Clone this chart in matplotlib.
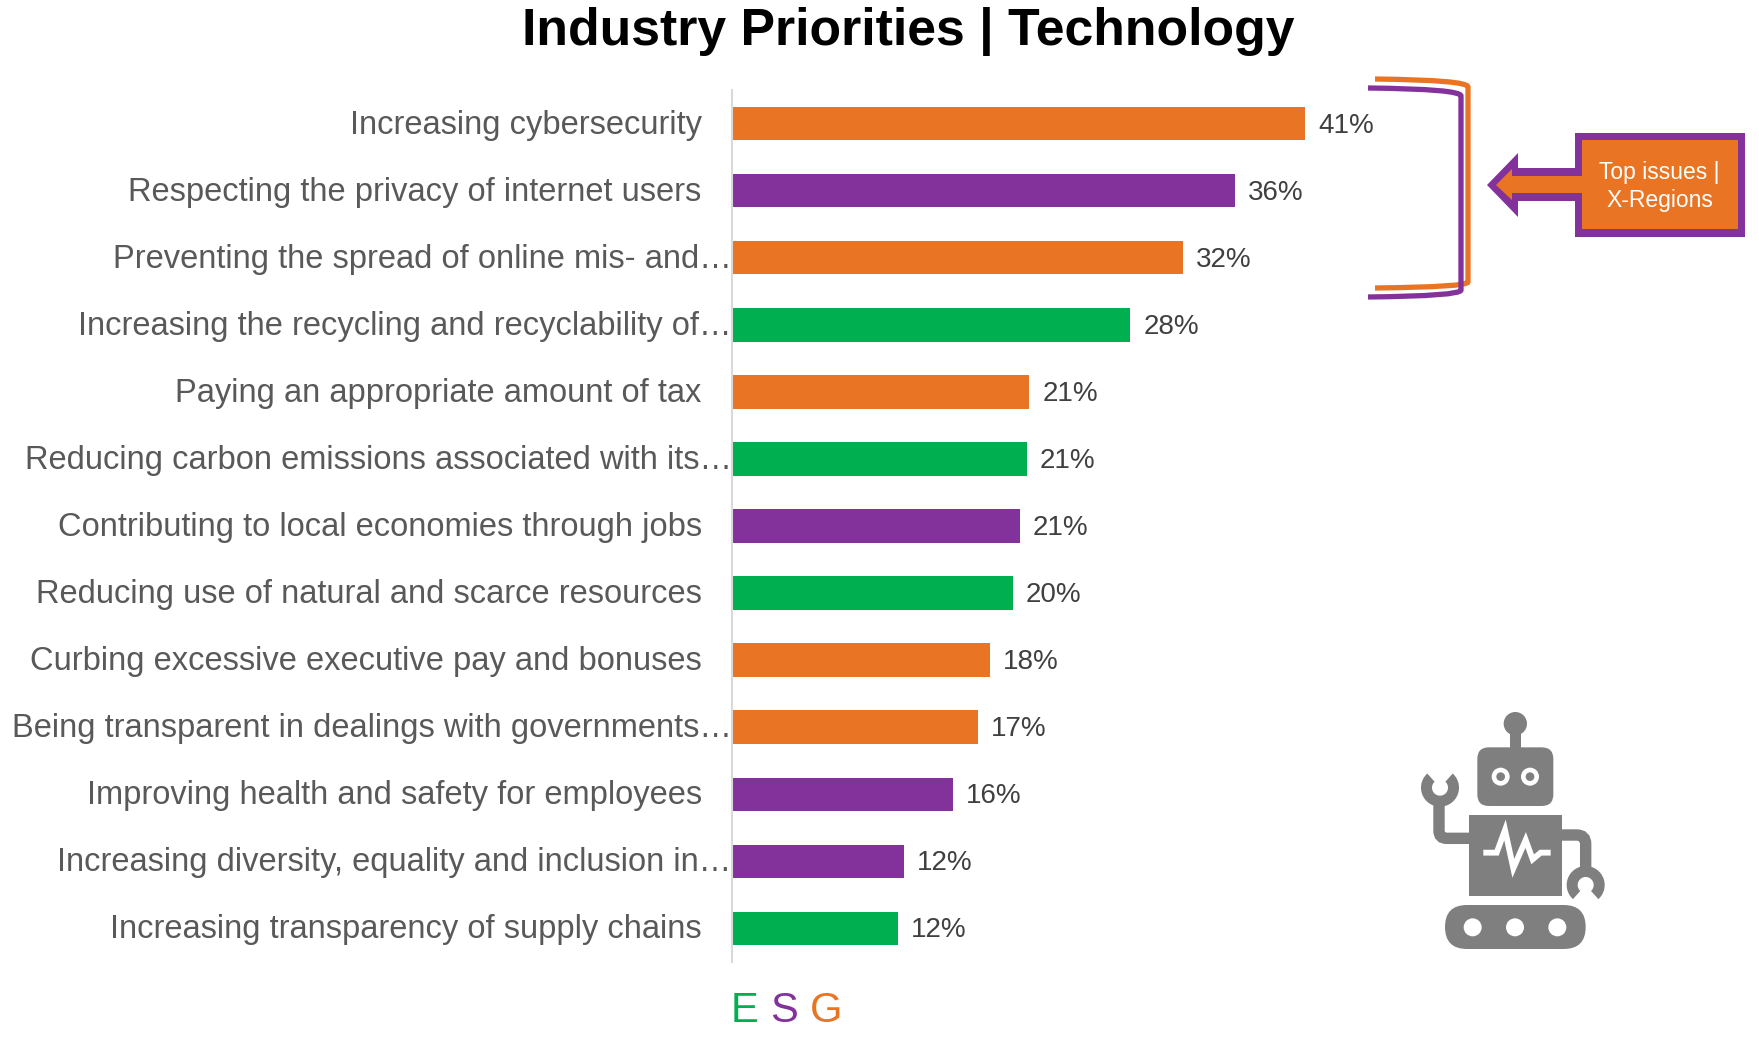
import matplotlib
matplotlib.use("Agg")
import matplotlib.pyplot as plt
from matplotlib.patches import Circle, FancyBboxPatch, PathPatch, Polygon, Rectangle, Wedge
from matplotlib.path import Path
from matplotlib.transforms import Affine2D, ScaledTranslation

plt.rcParams['font.family'] = ['Liberation Sans', 'DejaVu Sans']

categories = [
    "Increasing cybersecurity",
    "Respecting the privacy of internet users",
    "Preventing the spread of online mis- and…",
    "Increasing the recycling and recyclability of…",
    "Paying an appropriate amount of tax",
    "Reducing carbon emissions associated with its…",
    "Contributing to local economies through jobs",
    "Reducing use of natural and scarce resources",
    "Curbing excessive executive pay and bonuses",
    "Being transparent in dealings with governments…",
    "Improving health and safety for employees",
    "Increasing diversity, equality and inclusion in…",
    "Increasing transparency of supply chains",
]
values = [41.0, 36.0, 32.3, 28.5, 21.3, 21.1, 20.6, 20.1, 18.5, 17.6, 15.8, 12.3, 11.9]
value_labels = ["41%", "36%", "32%", "28%", "21%", "21%", "21%", "20%", "18%", "17%", "16%", "12%", "12%"]
pillars = ["G", "S", "G", "E", "G", "E", "S", "E", "G", "G", "S", "S", "E"]

ORANGE = '#E97524'
PURPLE = '#84329B'
GREEN = '#00AF50'
GREY = '#7F7F7F'
pillar_colors = {"E": GREEN, "S": PURPLE, "G": ORANGE}

W, H = 1759, 1042
fig = plt.figure(figsize=(W / 100, H / 100), dpi=100, facecolor='white')

# bar chart, placed in pixels
left, right, top, bottom = 731.5, 1361, 90, 962
ax = fig.add_axes([left / W, 1 - bottom / H, (right - left) / W, (bottom - top) / H])
y = list(range(len(categories)))
ax.barh(y, values, height=0.5, color=[pillar_colors[p] for p in pillars])
ax.set_xlim(0, 45)
ax.set_ylim(len(categories) - 0.5, -0.5)
ax.set_xticks([])
ax.set_yticks(y)
ax.set_yticklabels(categories, fontsize=23.5, color='#595959')
ax.tick_params(axis='y', length=0, pad=21.5)
for spine in ['top', 'right', 'bottom']:
    ax.spines[spine].set_visible(False)
ax.spines['left'].set_color('#D9D9D9')
ax.spines['left'].set_linewidth(1.5)

# truncated labels run right up to the axis, all labels sit a touch higher
for lab in ax.get_yticklabels():
    dx = 30 if lab.get_text().endswith("…") else 0
    lab.set_transform(lab.get_transform() + ScaledTranslation(dx / 100, 2 / 100, fig.dpi_scale_trans))

for i, (v, txt) in enumerate(zip(values, value_labels)):
    ax.annotate(txt, (v, i), xytext=(13, -2), textcoords='offset pixels',
                ha='left', va='center', fontsize=20, color='#404040')

# overlay in pixel coordinates for title, callout and icon
ov = fig.add_axes([0, 0, 1, 1], zorder=5)
ov.set_xlim(0, W)
ov.set_ylim(H, 0)
ov.axis('off')

ov.text(908, 32, "Industry Priorities | Technology", ha='center', va='center',
        fontsize=37.3, fontweight='bold', color='black')

for letter, x0, c in [("E", 731, GREEN), ("S", 770, PURPLE), ("G", 810, ORANGE)]:
    ov.text(x0, 1022, letter, ha='left', va='baseline', fontsize=30, color=c)

# brackets
orange_br = Path([(1375, 79), (1468, 80), (1468, 87), (1468, 282), (1468, 287), (1375, 288)],
                 [Path.MOVETO, Path.CURVE3, Path.CURVE3, Path.LINETO, Path.CURVE3, Path.CURVE3])
purple_br = Path([(1368, 88), (1461, 89), (1461, 96), (1461, 290), (1461, 296), (1368, 297)],
                 [Path.MOVETO, Path.CURVE3, Path.CURVE3, Path.LINETO, Path.CURVE3, Path.CURVE3])
ov.add_patch(PathPatch(orange_br, fill=False, edgecolor=ORANGE, lw=3.8, capstyle='butt'))
ov.add_patch(PathPatch(purple_br, fill=False, edgecolor=PURPLE, lw=3.8, capstyle='butt'))

# callout box with arrow
outer = [(1487, 185), (1518, 153), (1518, 168), (1575, 168), (1575, 133), (1745, 133),
         (1745, 237), (1575, 237), (1575, 201), (1518, 201), (1518, 217)]
inner = [(1496, 185), (1512, 169), (1512, 176), (1582, 176), (1582, 140), (1738, 140),
         (1738, 229), (1582, 229), (1582, 193), (1512, 193), (1512, 200)]
ov.add_patch(Polygon(outer, closed=True, facecolor=PURPLE, edgecolor='none'))
ov.add_patch(Polygon(inner, closed=True, facecolor=ORANGE, edgecolor='none'))
ov.text(1659, 173, "Top issues |", ha='center', va='center', fontsize=16.5, color='white')
ov.text(1660, 201, "X-Regions", ha='center', va='center', fontsize=16.5, color='white')

# robot icon, drawn on a 3x grid
tr = Affine2D().scale(1 / 3).translate(1380, 690) + ov.transData


def add(patch):
    patch.set_transform(tr)
    patch.set_edgecolor('none')
    ov.add_patch(patch)


add(Circle((406, 101), 35, facecolor=GREY))
add(Rectangle((390, 130), 32, 50, facecolor=GREY))
add(FancyBboxPatch((327, 207), 158, 106, boxstyle="round,pad=35,rounding_size=35", facecolor=GREY))
for ex in [362, 450]:
    add(Circle((ex, 260), 27, facecolor='white'))
    add(Circle((ex, 260), 13, facecolor=GREY))
add(Rectangle((266, 374), 281, 245, facecolor=GREY))
add(FancyBboxPatch((261, 711), 290, 0, boxstyle="round,pad=66,rounding_size=66", facecolor=GREY))
for wx in [278, 405, 532]:
    add(Circle((wx, 712), 27, facecolor='white'))

pulse = Path([(310, 488), (350, 488), (375, 420), (400, 535), (437, 450), (458, 508), (482, 488), (512, 488)])
arm_l = Path([(270, 445), (200, 445), (177, 445), (177, 422), (177, 340)],
             [Path.MOVETO, Path.LINETO, Path.CURVE3, Path.CURVE3, Path.LINETO])
arm_r = Path([(543, 435), (590, 435), (617, 435), (617, 462), (617, 540)],
             [Path.MOVETO, Path.LINETO, Path.CURVE3, Path.CURVE3, Path.LINETO])
for p in [arm_l, arm_r]:
    ov.add_patch(PathPatch(p, fill=False, edgecolor=GREY, lw=8.2, capstyle='butt', transform=tr))
ov.add_patch(PathPatch(pulse, fill=False, edgecolor='white', lw=4.2, joinstyle='miter',
                       capstyle='butt', transform=tr))
add(Wedge((180, 293), 57, 312, 588, width=33, facecolor=GREY))
add(Wedge((617, 585), 57, 132, 408, width=33, facecolor=GREY))

fig.savefig("out.png", dpi=100, facecolor='white')
